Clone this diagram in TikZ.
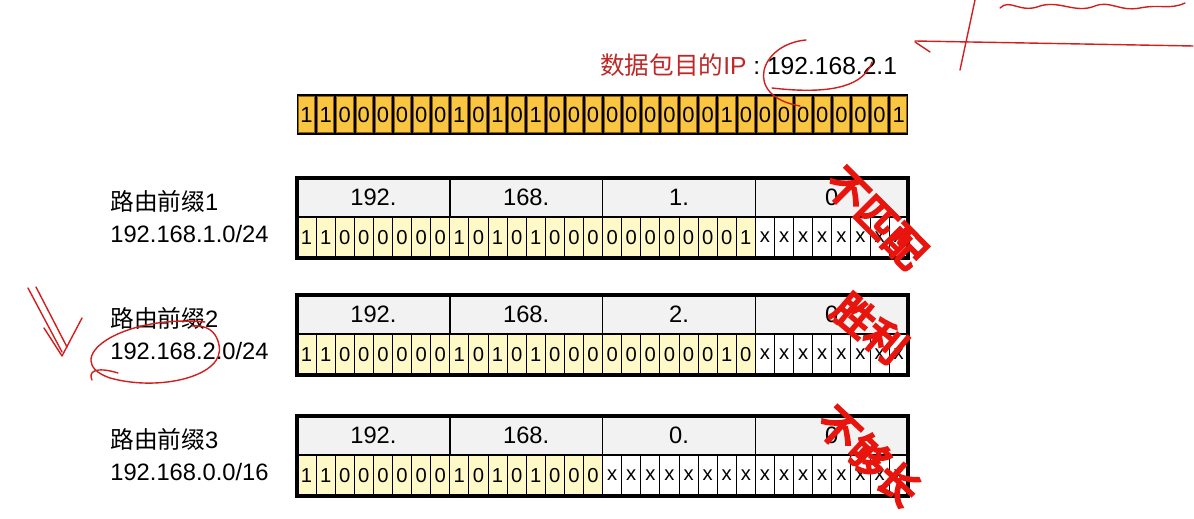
\documentclass[tikz,border=0pt]{standalone}
\usepackage{fontspec}
\setmainfont{Liberation Sans}
\newfontfamily\cjk{Noto Sans CJK SC}
\newfontfamily\stampfont[FakeBold=6]{Noto Sans CJK SC}
\definecolor{ipgold}{RGB}{250,198,66}
\definecolor{ipedge}{RGB}{140,95,20}
\definecolor{bitpale}{RGB}{255,249,200}
\definecolor{headgrey}{RGB}{242,242,242}
\definecolor{titlered}{RGB}{192,40,40}
\definecolor{stampred}{RGB}{232,20,14}
\definecolor{penred}{RGB}{210,30,30}

\begin{document}
\begin{tikzpicture}[x=0.02cm, y=-0.02cm]
% one cell of the 32 bit rows
\def\cellw{19.1}
\tikzset{
  bitnum/.style={font=\fontsize{11.5}{13}\selectfont, inner sep=0pt},
  headnum/.style={font=\fontsize{13.5}{15}\selectfont, inner sep=0pt},
  prefixlbl/.style={anchor=base west, font=\fontsize{13.5}{16}\selectfont, inner sep=0pt},
  stamp/.style={text=stampred, font=\stampfont\fontsize{23}{23}\selectfont, inner sep=0pt},
  pen/.style={penred, line width=0.8pt, line cap=round, line join=round}
}
\useasboundingbox (0,0) rectangle (1194,519);

% Destination address of the packet
\node[anchor=base west, inner sep=0pt, font=\fontsize{14}{16}\selectfont] (dst) at (600,75)
  {\textcolor{titlered}{{\cjk 数据包目的}IP} : 192.168.2.1};
\fill[black] (297,94) rectangle (908,135);
\foreach \b [count=\i from 0] in {1,1,0,0,0,0,0,0, 1,0,1,0,1,0,0,0, 0,0,0,0,0,0,1,0, 0,0,0,0,0,0,0,1} {
  \filldraw[fill=ipgold, draw=ipedge, line width=0.3pt] ({297+\i*\cellw+1.5},96.5) rectangle ({297+(\i+1)*\cellw-1.5},132.5);
  \node[bitnum, font=\fontsize{12.5}{14}\selectfont] (d\i) at ({297+(\i+0.5)*\cellw},115) {\b};
}

% The three route prefixes
\foreach \r/\top/\third/\addr/\bits in {
  1/178/1./192.168.1.0\slash 24/{1,1,0,0,0,0,0,0, 1,0,1,0,1,0,0,0, 0,0,0,0,0,0,0,1, x,x,x,x,x,x,x,x},
  2/295/2./192.168.2.0\slash 24/{1,1,0,0,0,0,0,0, 1,0,1,0,1,0,0,0, 0,0,0,0,0,0,1,0, x,x,x,x,x,x,x,x},
  3/416/0./192.168.0.0\slash 16/{1,1,0,0,0,0,0,0, 1,0,1,0,1,0,0,0, x,x,x,x,x,x,x,x, x,x,x,x,x,x,x,x}} {
  \node[prefixlbl] (name\r) at (110,\top+33) {{\cjk 路由前缀}\r};
  \node[prefixlbl] (addr\r) at (110,\top+65) {\addr};
  \fill[headgrey] (297,\top) rectangle (908,\top+39);
  \foreach \b [count=\i from 0] in \bits {
    \def\bitfill{bitpale}
    \if\b x\def\bitfill{white}\fi
    \filldraw[fill=\bitfill, draw=black, line width=0.5pt] ({297+\i*\cellw},\top+39) rectangle ({297+(\i+1)*\cellw},\top+80);
    \node[bitnum] (b\r-\i) at ({297+(\i+0.5)*\cellw},\top+59.5) {\b};
  }
  \foreach \txt [count=\k from 0] in {192.,168.,\third,0} {
    \draw[line width=0.8pt] ({297+\k*8*\cellw},\top) -- ({297+\k*8*\cellw},\top+39);
    \node[headnum] (h\r-\k) at ({297+(\k+0.5)*8*\cellw},\top+19.5) {\txt};
  }
  \draw[line width=1.2pt] (297,\top+39) -- (908,\top+39);
  \draw[line width=1.8pt] (297,\top) rectangle (908,\top+80);
}

% Stamped verdicts
\node[stamp, rotate=-45] (miss) at (876,218) {不匹配};
\node[stamp, rotate=-40] (win) at (870,328) {胜利};
\node[stamp, rotate=-43] (short) at (869,456) {不够长};

% Pen marks
\draw[pen] (806,40) .. controls (760,44) and (742,96) .. (800,106);
\draw[pen] (772,88) .. controls (815,93) and (862,92) .. (872,62);
\draw[pen] (915,41) -- (1193,46);
\draw[pen] (915,42) -- (930,52);
\draw[pen] (975,0) -- (960,70);
\draw[pen] (1000,8) .. controls (1010,-2) and (1020,14) .. (1040,6) .. controls (1060,0) and (1075,14) .. (1095,6)
  .. controls (1110,0) and (1120,12) .. (1140,8) .. controls (1160,4) and (1170,10) .. (1185,3);
\draw[pen] (28,288) -- (62,352);
\draw[pen] (36,287) -- (67,347);
\draw[pen] (44,328) -- (62,356) -- (82,318);
\draw[pen] (205,322) .. controls (120,314) and (58,360) .. (110,378) .. controls (160,392) and (226,376) .. (219,345)
  .. controls (216,330) and (206,325) .. (192,326);
\draw[pen] (118,373) .. controls (95,366) and (88,372) .. (92,380);
\end{tikzpicture}
\end{document}
